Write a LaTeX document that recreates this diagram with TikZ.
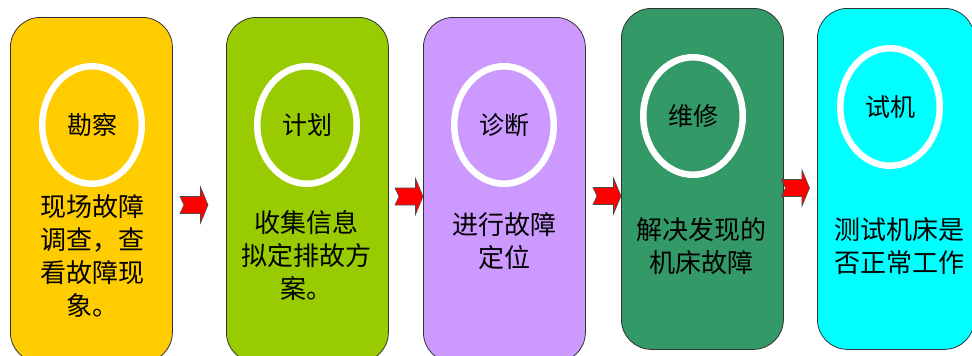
\documentclass[tikz,border=0pt]{standalone}
\usepackage{fontspec}
\setmainfont{Noto Sans CJK SC}
\usetikzlibrary{shapes.geometric}
\definecolor{cone}{HTML}{FFCC00}
\definecolor{ctwo}{HTML}{99CC00}
\definecolor{cthree}{HTML}{CC99FF}
\definecolor{cfour}{HTML}{339966}
\definecolor{cfive}{HTML}{00FFFF}
\tikzset{
  box/.style={draw=black!80, line width=0.8pt, rounded corners=30pt, rectangle,
    minimum width=162pt, inner sep=0pt, anchor=north west},
  ring/.style={ellipse, draw=white, line width=6.5pt, minimum width=99.5pt,
    minimum height=117.5pt, inner sep=0pt, font=\fontsize{25}{30}\selectfont},
  desc/.style={align=center, font=\fontsize{26}{33}\selectfont, inner sep=0pt},
  blockarrow/.style={fill=red, draw=black!70, line width=0.6pt, line join=miter},
  pics/blkarrow/.style={code={
    \draw[blockarrow] (-14,-8.5) -- (6.5,-8.5) -- (6.5,-18) -- (14,0)
      -- (6.5,18) -- (6.5,8.5) -- (-14,8.5) -- (-10,0) -- cycle;}}
}
\begin{document}
\begin{tikzpicture}[x=1pt,y=-1pt]
\useasboundingbox (0,0) rectangle (972,356);
\clip (0,0) rectangle (972,356);
\fill[white] (0,0) rectangle (972,356);
% boxes
\node[box, fill=cone,   minimum height=345pt] (b1) at (10,17) {};
\node[box, fill=ctwo,   minimum height=345pt] (b2) at (226,17) {};
\node[box, fill=cthree, minimum height=345pt] (b3) at (423,17) {};
\node[box, fill=cfour,  minimum height=341pt] (b4) at (621,8) {};
\node[box, fill=cfive,  minimum height=341pt, minimum width=157pt] (b5) at (817,8) {};
% rings
\node[ring] (r1) at (92,125) {勘察};
\node[ring] (r2) at (307,125) {计划};
\node[ring] (r3) at (504,125) {诊断};
\node[ring] (r4) at (693,116) {维修};
\node[ring] (r5) at (890,107) {试机};
% descriptions
\node[desc] (d1) at (92,256) {现场故障\\调查，查\\看故障现\\象。};
\node[desc] (d2) at (306,255) {收集信息\\拟定排故方\\案。};
\node[desc] (d3) at (504,241) {进行故障\\定位};
\node[desc] (d4) at (701,246.5) {解决发现的\\机床故障};
\node[desc] (d5) at (899,246.5) {测试机床是\\否正常工作};
% arrows
\pic (a1) at (194,205) {blkarrow};
\pic (a2) at (409,196.5) {blkarrow};
\pic (a3) at (607,196) {blkarrow};
\pic (a4) at (795.5,188) {blkarrow};
\end{tikzpicture}
\end{document}
